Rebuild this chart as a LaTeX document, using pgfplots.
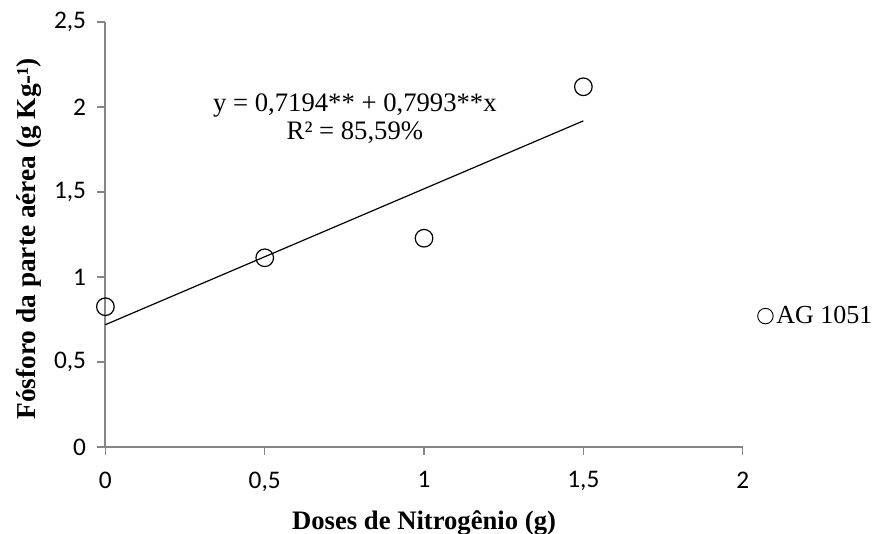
\documentclass[border=0pt]{standalone}
\usepackage{pgfplots}
\pgfplotsset{compat=1.18}
\usepackage{fontspec}
\setmainfont{Liberation Serif}
\newfontfamily\calfont{Carlito}
\newcommand\tickfont{\calfont\fontsize{19}{21}\selectfont}
\newcommand\labfont{\fontsize{20}{22}\selectfont\bfseries}
\newcommand\ylabfont{\fontsize{20.5}{22}\selectfont\bfseries}
\newcommand\eqfont{\fontsize{20}{21}\selectfont}
\newcommand\legfont{\fontsize{19.5}{21}\selectfont}
\definecolor{axgray}{HTML}{868686}
\begin{document}
\begin{tikzpicture}
\begin{axis}[
  scale only axis,
  width=478pt, height=318.75pt,
  xmin=0, xmax=2, ymin=0, ymax=2.5,
  axis x line=bottom, axis y line=left,
  axis line style={axgray, line width=1.4pt, -},
  xtick={0,0.5,1,1.5,2},
  ytick={0,0.5,1,1.5,2,2.5},
  xticklabels={0,{0,5},1,{1,5},2},
  yticklabels={0,{0,5},1,{1,5},2,{2,5}},
  tick align=outside,
  major tick length=6pt,
  tick style={axgray, line width=1pt},
  every tick label/.append style={font=\tickfont},
  xticklabel style={yshift=-9pt},
  yticklabel style={xshift=-5pt},
  xlabel={\labfont Doses de Nitrogênio (g)},
  ylabel={\ylabfont Fósforo da parte aérea (g Kg-¹)},
  xlabel style={at={(axis description cs:0.5,-0.1953)}, anchor=base},
  ylabel style={at={(axis description cs:-0.12,0.49)}, anchor=center},
  legend style={draw=none, fill=none, at={(rel axis cs:1.0224,0.308)}, anchor=west,
     font=\legfont, inner sep=0pt},
  legend image code/.code={\draw[black, line width=0.7pt] (0.2cm,0cm) circle (5.8pt);},
  legend cell align=left,
  clip=false,
]
\addplot[only marks, mark=o, mark size=6.6pt, mark options={line width=0.9pt, black}]
  coordinates {(0,0.825) (0.5,1.113) (1,1.228) (1.5,2.119)};
\addlegendentry{AG 1051}
\addplot[black, line width=0.9pt, forget plot] coordinates {(0,0.7194) (1.5,1.91835)};
\node[align=center, font=\eqfont] at (axis cs:0.783,1.93)
  {y = 0,7194** + 0,7993**x\\R² = 85,59\%};
\coordinate (bl) at (rel axis cs:-0.1654,-0.2047);
\coordinate (tr) at (rel axis cs:1.2092,1.0518);
\end{axis}
\pgfresetboundingbox
\path[use as bounding box] (bl) rectangle (tr);
\end{tikzpicture}
\end{document}
